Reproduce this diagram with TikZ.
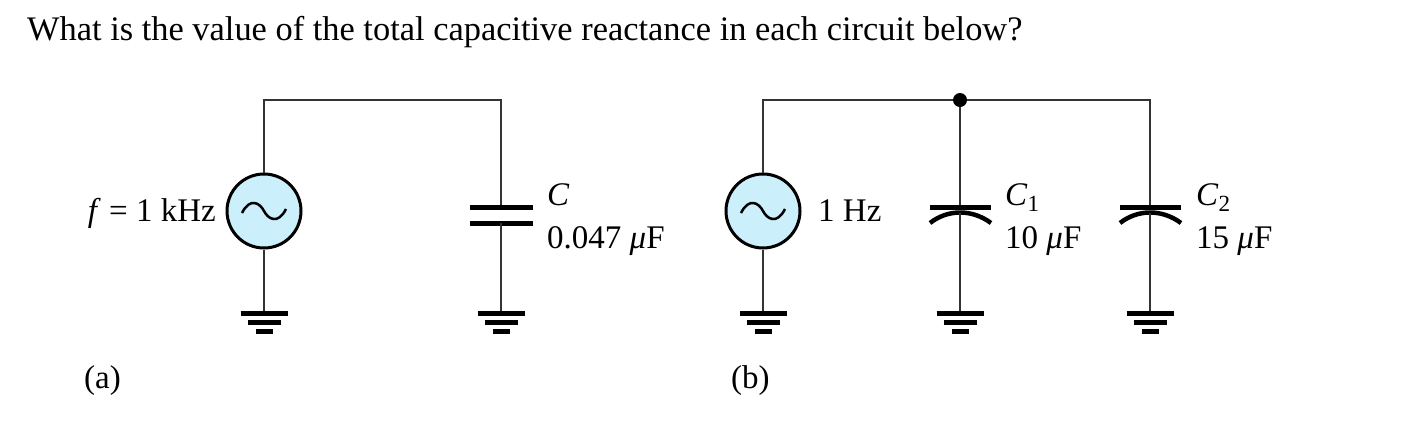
\documentclass[tikz,border=0pt]{standalone}
\usepackage{fontspec}
\setmainfont{Liberation Serif}
\usetikzlibrary{calc}
\begin{document}
\begin{tikzpicture}[x=1pt,y=-1pt,
  wire/.style={line width=2pt,draw=black!80},
  plate/.style={line width=5pt},
  src/.style={circle,draw,line width=3pt,fill=cyan!20,minimum size=74pt,inner sep=0pt},
  lbl/.style={font=\fontsize{33}{36}\selectfont,inner sep=0pt}]
\useasboundingbox (0,0) rectangle (1428,424);
\node[lbl,anchor=base west] (title) at (27,40) {\fontsize{34.4}{38}\selectfont What is the value of the total capacitive reactance in each circuit below?};
\newcommand\gnd[2]{%
  \draw[wire] (#1) -- (#2);
  \draw[line width=5pt] ($(#2)+(-23.5,0)$) -- ++(47,0);
  \draw[line width=5pt] ($(#2)+(-16.5,9)$) -- ++(33,0);
  \draw[line width=5pt] ($(#2)+(-8.5,18)$) -- ++(17,0);}
\newcommand\sine[1]{%
  \draw[line width=2.5pt] ($(#1.center)+(-22,2)$) .. controls ($(#1.center)+(-14,-14)$) and ($(#1.center)+(-4,-8)$) .. (#1.center) .. controls ($(#1.center)+(4,8)$) and ($(#1.center)+(14,14)$) .. ($(#1.center)+(22,-2)$);}
% (a)
\coordinate (ta) at (264,100); \coordinate (tc) at (501,100);
\node[src] (sa) at (264,211) {};
\sine{sa}
\draw[wire] (sa.north) -- (ta) -- (tc) -- (501,207);
\draw[plate] (470,207) -- (533,207);
\draw[plate] (470,223) -- (533,223);
\coordinate (ga) at (264,313); \coordinate (gc) at (501,313);
\coordinate (ca) at (501,223);
\gnd{sa.south}{ga}
\gnd{ca}{gc}
\node[lbl,anchor=base east] (fa) at (216,221) {\textit{f} = 1 kHz};
\node[lbl,anchor=base west] (cl) at (547,205) {\textit{C}};
\node[lbl,anchor=base west] (cv) at (547,248) {0.047 \textit{μ}F};
\node[lbl,anchor=base west] (la) at (84,388) {(a)};
% (b)
\coordinate (tb) at (763,100); \coordinate (t1) at (960,100); \coordinate (t2) at (1150,100);
\node[src] (sb) at (763,211) {};
\sine{sb}
\draw[wire] (sb.north) -- (tb) -- (t2) -- (1150,207);
\draw[wire] (t1) -- (960,207);
\fill (t1) circle (7pt);
\foreach \x/\n in {960/1,1150/2}{
  \draw[plate] (\x-30,207) -- (\x+31,207);
  \draw[line width=4.5pt] (\x-30,223) .. controls (\x-12,209) and (\x+12,209) .. (\x+31,223);
  \coordinate (c\n) at (\x,213);
  \coordinate (g\n) at (\x,313);
  \gnd{c\n}{g\n}
}
\coordinate (gb) at (763,313);
\gnd{sb.south}{gb}
\node[lbl,anchor=base west] (hz) at (818,221) {1 Hz};
\node[lbl,anchor=base west] (c1l) at (1005,205) {\textit{C}\textsubscript{1}};
\node[lbl,anchor=base west] (c1v) at (1005,248) {10 \textit{μ}F};
\node[lbl,anchor=base west] (c2l) at (1196,205) {\textit{C}\textsubscript{2}};
\node[lbl,anchor=base west] (c2v) at (1196,248) {15 \textit{μ}F};
\node[lbl,anchor=base west] (lb) at (731,388) {(b)};
\end{tikzpicture}
\end{document}
